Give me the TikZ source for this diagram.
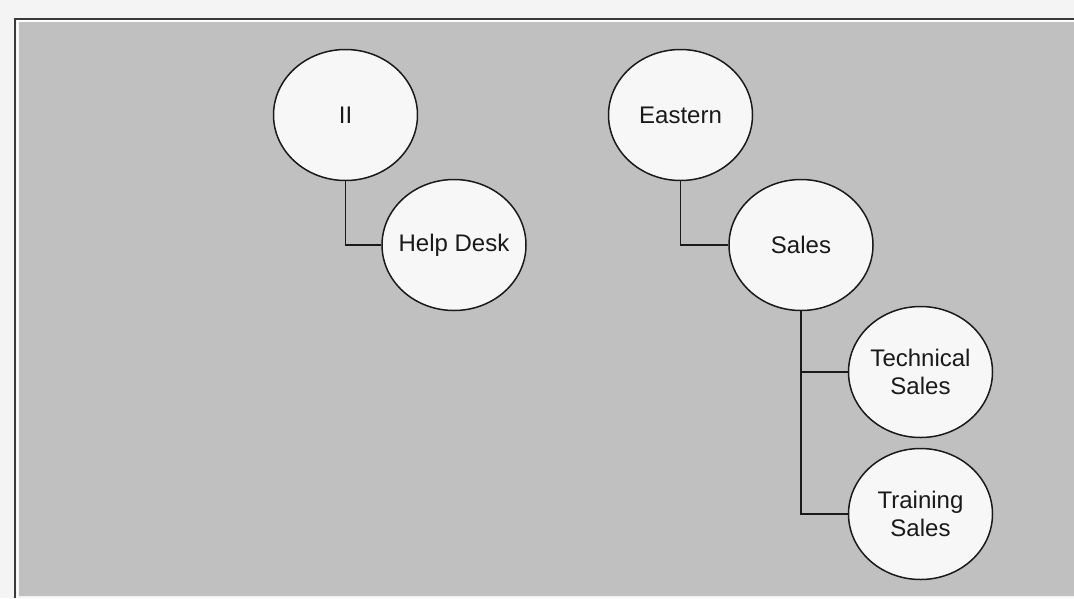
\documentclass[tikz,border=0pt]{standalone}
\usepackage{fontspec}
\setmainfont{Liberation Sans}
\usetikzlibrary{shapes.geometric}
\definecolor{outerbg}{HTML}{F4F4F4}
\definecolor{panel}{HTML}{C0C0C0}
\definecolor{framedark}{HTML}{3A3A3A}
\definecolor{bubble}{HTML}{F7F7F7}
\definecolor{ink}{HTML}{1A1A1A}
\tikzset{
  org/.style={ellipse, draw=ink, line width=1.5pt, fill=bubble, inner ysep=0pt,
    inner xsep=-14pt,
    minimum width=144pt, minimum height=131pt, align=center, text=ink,
    font=\fontsize{24}{28}\selectfont},
  link/.style={draw=ink, line width=1.6pt}
}
\begin{document}
\begin{tikzpicture}[x=1pt,y=-1pt]
\useasboundingbox (0,0) rectangle (1074,598);
\fill[outerbg] (0,0) rectangle (1074,598);
\fill[panel] (19,22) rectangle (1074,596);
\draw[white, line width=1.5pt] (17.5,598) -- (17.5,21) -- (1074,21);
\draw[framedark, line width=2pt] (15,598) -- (15,19) -- (1074,19);

\node[org] (it) at (345.5,115) {II};
\node[org] (hd) at (454,245) {Help Desk};
\node[org] (east) at (680.5,115) {Eastern};
\node[org] (sales) at (801,245) {Sales};
\node[org] (tech) at (920.5,372) {Technical\\Sales};
\node[org] (train) at (920.5,514) {Training\\Sales};

\draw[link] (it.south) |- (hd.west);
\draw[link] (east.south) |- (sales.west);
\draw[link] (sales.south) |- (tech.west);
\draw[link] (sales.south) |- (train.west);
\end{tikzpicture}
\end{document}
